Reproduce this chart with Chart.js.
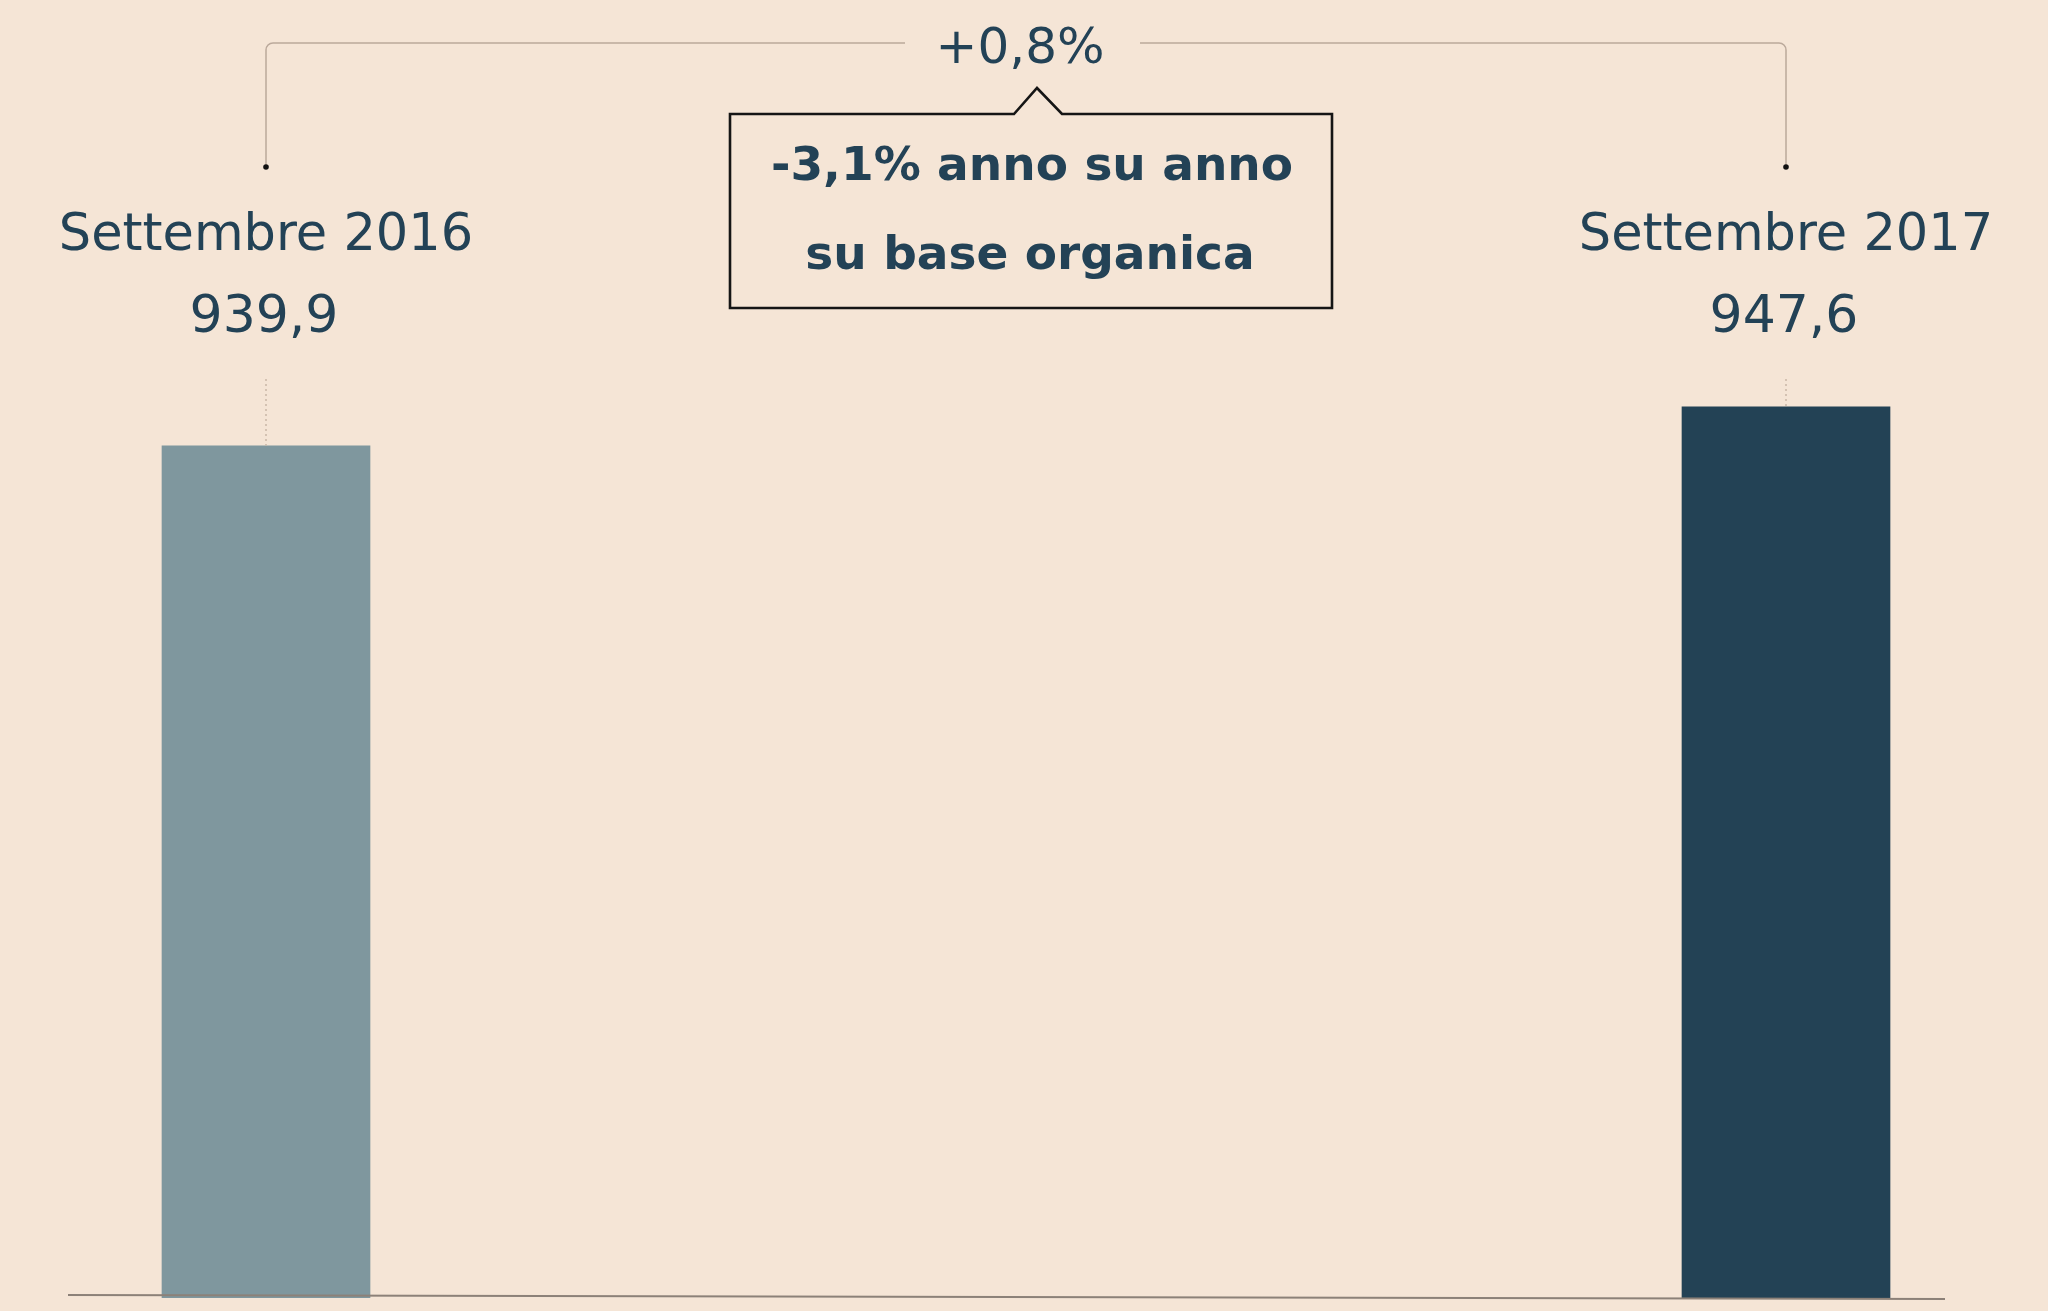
<!DOCTYPE html>
<html>
<head>
<meta charset="utf-8">
<script src="https://cdn.jsdelivr.net/npm/chart.js@4.4.0/dist/chart.umd.min.js"></script>
<style>
  html, body { margin: 0; padding: 0; background: #f5e5d6; }
  #wrap { width: 2048px; height: 1311px; position: relative; }
</style>
</head>
<body>
<div id="wrap"><canvas id="barre"></canvas></div>
<script>
// dati
var categorie = ['Settembre 2016', 'Settembre 2017'];
var valori = [939.9, 947.6];
var colori = ['#7f979e', '#234255'];
var notaRighe = ['-3,1% anno su anno', 'su base organica'];

var BLU = '#234256';
var Y_MIN = 771.5;
var Y_MAX = 1028;

function fmt(v) {
    return v.toFixed(1).replace('.', ',');
}

var variazione = (valori[1] / valori[0] - 1) * 100;
var testoVariazione = (variazione >= 0 ? '+' : '') + fmt(variazione) + '%';

// disegna etichette, parentesi e riquadro
var annotazioni = {
    id: 'annotazioni',
    afterDatasetsDraw: function (chart) {
        var ctx = chart.ctx;
        var xs = chart.scales.x;
        var ys = chart.scales.y;
        var x0 = xs.getPixelForValue(0);
        var x1 = xs.getPixelForValue(1);
        var bottom = chart.chartArea.bottom;
        var mid = (x0 + x1) / 2;

        ctx.save();

        // linea di base
        ctx.strokeStyle = '#8c8178';
        ctx.lineWidth = 2;
        ctx.beginPath();
        ctx.moveTo(x0 - 198, bottom - 3);
        ctx.lineTo(x1 + 159, bottom + 1);
        ctx.stroke();

        // linee tratteggiate sopra le barre
        ctx.strokeStyle = '#c9b6a6';
        ctx.lineWidth = 1.5;
        ctx.setLineDash([2, 3]);
        [x0, x1].forEach(function (x, i) {
            ctx.beginPath();
            ctx.moveTo(x, 379);
            ctx.lineTo(x, ys.getPixelForValue(valori[i]));
            ctx.stroke();
        });
        ctx.setLineDash([]);

        // parentesi in alto
        var r = 7, yTop = 43, yDot = 167;
        ctx.strokeStyle = '#bba99b';
        ctx.lineWidth = 1.5;
        ctx.beginPath();
        ctx.moveTo(x0, yDot);
        ctx.lineTo(x0, yTop + r);
        ctx.arcTo(x0, yTop, x0 + r, yTop, r);
        ctx.lineTo(mid - 121, yTop);
        ctx.moveTo(mid + 114, yTop);
        ctx.lineTo(x1 - r, yTop);
        ctx.arcTo(x1, yTop, x1, yTop + r, r);
        ctx.lineTo(x1, yDot);
        ctx.stroke();

        ctx.fillStyle = '#111';
        [x0, x1].forEach(function (x) {
            ctx.beginPath();
            ctx.arc(x, yDot, 2.8, 0, Math.PI * 2);
            ctx.fill();
        });

        // testi delle categorie e valori
        ctx.fillStyle = BLU;
        ctx.textAlign = 'center';
        ctx.textBaseline = 'alphabetic';
        [x0, x1].forEach(function (x, i) {
            ctx.font = '51px "DejaVu Sans"';
            ctx.fillText(categorie[i], x, 250);
            ctx.font = '52px "DejaVu Sans"';
            ctx.fillText(fmt(valori[i]), x - 2, 332);
        });

        // variazione
        ctx.font = '50px "DejaVu Sans"';
        ctx.fillText(testoVariazione, mid - 6, 63);

        // riquadro con punta
        var bl = mid - 296, br = mid + 306, bt = 114, bb = 308;
        var px = mid + 11;
        ctx.strokeStyle = '#151515';
        ctx.lineWidth = 2.6;
        ctx.beginPath();
        ctx.moveTo(bl, bt);
        ctx.lineTo(px - 23, bt);
        ctx.lineTo(px, 88);
        ctx.lineTo(px + 25, bt);
        ctx.lineTo(br, bt);
        ctx.lineTo(br, bb);
        ctx.lineTo(bl, bb);
        ctx.closePath();
        ctx.stroke();

        ctx.fillStyle = BLU;
        ctx.font = 'bold 47px "DejaVu Sans"';
        ctx.fillText(notaRighe[0], mid + 6, 180);
        ctx.fillText(notaRighe[1], mid + 4, 269);

        ctx.restore();
    }
};

var ctx = document.getElementById('barre').getContext('2d');
var grafico = new Chart(ctx, {
    type: 'bar',
    data: {
        labels: categorie,
        datasets: [{
            data: valori,
            base: Y_MIN,
            backgroundColor: colori,
            borderWidth: 0,
            barThickness: 208,
            clip: { left: false, right: false, top: false, bottom: 0 }
        }]
    },
    options: {
        responsive: true,
        maintainAspectRatio: false,
        animation: false,
        layout: {
            padding: { left: 266, right: 262, top: 0, bottom: 13 }
        },
        plugins: {
            legend: { display: false },
            tooltip: { enabled: false }
        },
        scales: {
            x: {
                display: false,
                offset: false,
                grid: { display: false }
            },
            y: {
                display: false,
                min: Y_MIN,
                max: Y_MAX,
                grid: { display: false }
            }
        }
    },
    plugins: [annotazioni]
});
</script>
</body>
</html>
